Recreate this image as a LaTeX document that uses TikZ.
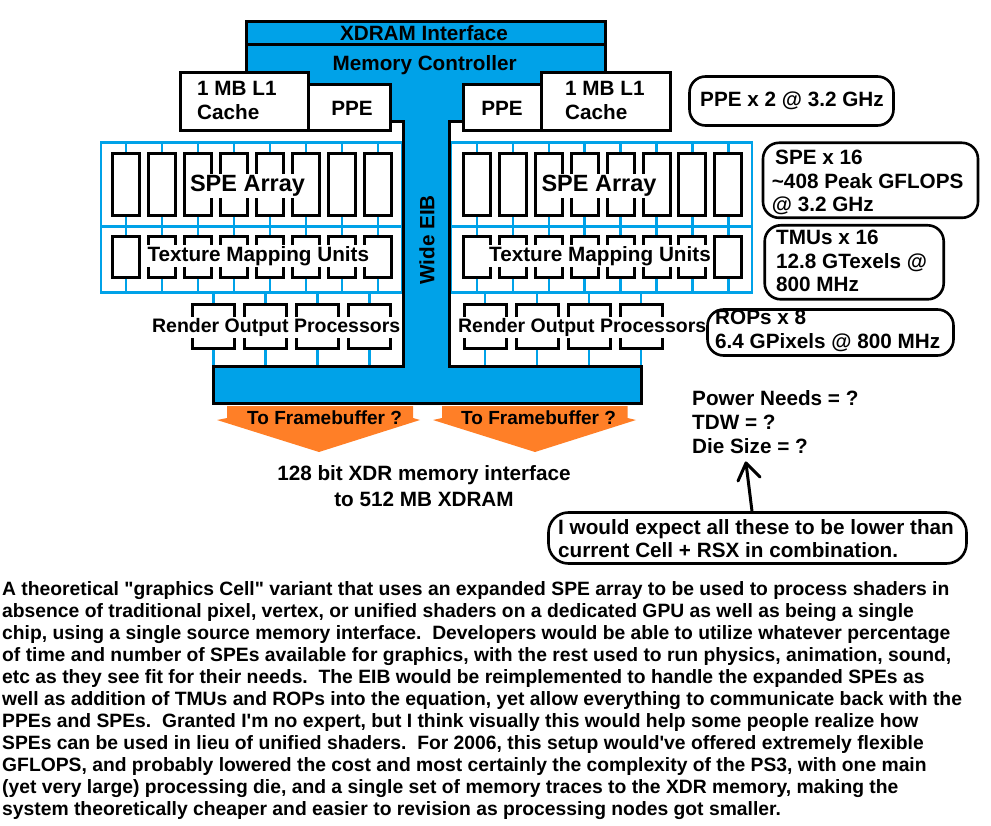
\documentclass[tikz,border=0pt]{standalone}
\usepackage{fontspec}
\newfontfamily\af{Liberation Sans}
\definecolor{pblue}{RGB}{0,162,232}
\definecolor{porange}{RGB}{255,127,39}
\begin{document}
\begin{tikzpicture}[x=1pt,y=-1pt,
  lbl/.style={font=\af\bfseries\fontsize{20.7}{24}\selectfont\frenchspacing, inner sep=0pt},
  big/.style={font=\af\bfseries\fontsize{23.5}{27}\selectfont, inner sep=0pt},
  ropf/.style={font=\af\bfseries\fontsize{19.5}{23}\selectfont, inner sep=0pt},
  fbf/.style={font=\af\bfseries\fontsize{19}{23}\selectfont, inner sep=0pt},
  desc/.style={font=\af\bfseries\fontsize{19.3}{22}\selectfont\frenchspacing, inner sep=0pt, anchor=base west},
  bx/.style={draw=black, line width=3pt, fill=white, inner sep=0pt},
  bl/.style={draw=pblue, line width=2.5pt},
  blk/.style={draw=black, line width=3pt},
  info/.style={draw=black, line width=2.6pt, rounded corners=16pt, inner sep=0pt},
  ko/.style={fill=white, inner sep=1.2pt},
]
\useasboundingbox (0,0) rectangle (991,826);

% ---------- blue grids ----------
\draw[bl] (101,142.5) rectangle (402,292.5);
\draw[bl] (101,226.5) -- (402,226.5);
\draw[bl] (451,142.5) rectangle (752,292.5);
\draw[bl] (451,226.5) -- (752,226.5);
\coordinate (gt) at (0,142.5);
\coordinate (gm) at (0,226.5);
\coordinate (gb) at (0,292.5);
\coordinate (bt) at (0,365);

% ---------- SPE and TMU boxes ----------
\foreach \i in {1,...,8}{
  \pgfmathsetmacro\xl{126+36*(\i-1)}
  \pgfmathsetmacro\xr{477+35.9*(\i-1)}
  \node[bx, minimum width=27pt, minimum height=62pt] (sL\i) at (\xl,184.5) {};
  \node[bx, minimum width=27pt, minimum height=62pt] (sR\i) at (\xr,184.5) {};
  \node[bx, minimum width=27pt, minimum height=41pt] (tL\i) at (\xl,257) {};
  \node[bx, minimum width=27pt, minimum height=41pt] (tR\i) at (\xr,257) {};
  \draw[bl] (sL\i.north) -- (sL\i.north |- gt);
  \draw[bl] (sL\i.south) -- (sL\i.south |- gm);
  \draw[bl] (tL\i.north) -- (tL\i.north |- gm);
  \draw[bl] (tL\i.south) -- (tL\i.south |- gb);
  \draw[bl] (sR\i.north) -- (sR\i.north |- gt);
  \draw[bl] (sR\i.south) -- (sR\i.south |- gm);
  \draw[bl] (tR\i.north) -- (tR\i.north |- gm);
  \draw[bl] (tR\i.south) -- (tR\i.south |- gb);
}

% ---------- ROP boxes ----------
\foreach \i in {1,...,4}{
  \pgfmathsetmacro\xl{213.5+52*(\i-1)}
  \pgfmathsetmacro\xr{485+52*(\i-1)}
  \node[bx, minimum width=42pt, minimum height=44pt] (rL\i) at (\xl,326.5) {};
  \node[bx, minimum width=42pt, minimum height=44pt] (rR\i) at (\xr,326.5) {};
  \draw[bl] (rL\i.north) -- (rL\i.north |- gb);
  \draw[bl] (rL\i.south) -- (rL\i.south |- bt);
  \draw[bl] (rR\i.north) -- (rR\i.north |- gb);
  \draw[bl] (rR\i.south) -- (rR\i.south |- bt);
}

% ---------- knockout labels ----------
\node[big, ko, anchor=base] (saL) at (247.5,191.5) {SPE Array};
\node[big, ko, anchor=base] (saR) at (599,191.5) {SPE Array};
\node[lbl, ko, anchor=base] (tmL) at (258.3,261.7) {Texture Mapping Units};
\node[lbl, ko, anchor=base] (tmR) at (600,261.7) {Texture Mapping Units};
\node[ropf, ko, anchor=base west] (roL) at (150.7,332.7) {Render Output Processors};
\node[ropf, ko, anchor=base west] (roR) at (456.7,332.7) {Render Output Processors};

% ---------- memory controller, EIB stem, bottom bar ----------
\fill[pblue] (245,44.5) rectangle (607,84.5);
\fill[pblue] (390.5,83) rectangle (463.5,122);
\fill[pblue] (403.5,122) rectangle (449.5,366.5);
\fill[pblue] (213.5,366.5) rectangle (641.5,403.5);
\draw[blk] (246.5,44.5) -- (246.5,74);
\draw[blk] (605.5,44.5) -- (605.5,74);
\draw[blk] (390.5,122) -- (403.5,122) -- (403.5,366.5) -- (213.5,366.5) -- (213.5,403.5)
  -- (641.5,403.5) -- (641.5,366.5) -- (449.5,366.5) -- (449.5,122) -- (463.5,122);
\node[bx, fill=pblue, minimum width=359pt, minimum height=23pt] (xdr) at (426,33) {};
\node[lbl, anchor=base] (xdrt) at (424,40.6) {XDRAM Interface};
\node[lbl, anchor=base] (mc) at (424.7,70.3) {Memory Controller};
\node[lbl, rotate=90] (eib) at (427,240) {Wide EIB};

% ---------- caches and PPEs ----------
\node[bx, minimum width=128pt, minimum height=58pt] (cL) at (244.5,101.5) {};
\node[bx, minimum width=82pt, minimum height=46pt] (pL) at (349.5,107.5) {};
\node[bx, minimum width=78pt, minimum height=46pt] (pR) at (502.5,107.5) {};
\node[bx, minimum width=129pt, minimum height=58pt] (cR) at (606,101.5) {};
\node[lbl, anchor=base west] (cLa) at (197,96) {1 MB L1};
\node[lbl, anchor=base west] (cLb) at (197,119.3) {Cache};
\node[lbl, anchor=base west] (cRa) at (565,96) {1 MB L1};
\node[lbl, anchor=base west] (cRb) at (565,119.3) {Cache};
\node[lbl, anchor=base] (pLt) at (352,116) {PPE};
\node[lbl, anchor=base] (pRt) at (502,116) {PPE};

% ---------- orange arrows ----------
\fill[porange] (227,406) -- (413,406) -- (413,418) -- (420,420) -- (319,452) -- (217,420) -- (227,418) -- cycle;
\fill[porange] (442,406) -- (627.5,406) -- (627.5,418) -- (636,420) -- (535,452) -- (433,420) -- (442,418) -- cycle;
\node[fbf, anchor=base west] (fbL) at (247,424) {To Framebuffer ?};
\node[fbf, anchor=base west] (fbR) at (461,424) {To Framebuffer ?};
\node[lbl, anchor=base] (xm1) at (424,480.5) {128 bit XDR memory interface};
\node[lbl, anchor=base] (xm2) at (424,506) {to 512 MB XDRAM};

% ---------- info boxes ----------
\node[info, minimum width=204pt, minimum height=49pt] (iPPE) at (791.5,101) {};
\node[lbl, anchor=base west] (iPPEt) at (700,106.7) {PPE x 2 @ 3.2 GHz};
\node[info, minimum width=215pt, minimum height=75pt] (iSPE) at (870.5,180.3) {};
\node[lbl, anchor=base west] (iSPE1) at (775,164.3) {SPE x 16};
\node[lbl, anchor=base west] (iSPE2) at (771.7,188.3) {\textasciitilde 408 Peak GFLOPS};
\node[lbl, anchor=base west] (iSPE3) at (771.7,211.7) {@ 3.2 GHz};
\node[info, minimum width=179pt, minimum height=74pt] (iTMU) at (854.2,262.3) {};
\node[lbl, anchor=base west] (iTMU1) at (776,245) {TMUs x 16};
\node[lbl, anchor=base west] (iTMU2) at (776,268.3) {12.8 GTexels @};
\node[lbl, anchor=base west] (iTMU3) at (776,291.7) {800 MHz};
\node[info, minimum width=246pt, minimum height=46pt] (iROP) at (830.5,332.5) {};
\node[lbl, anchor=base west] (iROP1) at (715,325) {ROPs x 8};
\node[lbl, anchor=base west] (iROP2) at (715,348.3) {6.4 GPixels @ 800 MHz};

\node[lbl, anchor=base west] (pw1) at (692,405.7) {Power Needs = ?};
\node[lbl, anchor=base west] (pw2) at (692,429.3) {TDW = ?};
\node[lbl, anchor=base west] (pw3) at (692,453.3) {Die Size = ?};

\node[info, rounded corners=20pt, minimum width=418pt, minimum height=51pt] (bub) at (757.5,538) {};
\node[lbl, anchor=base west] (bub1) at (558,534) {I would expect all these to be lower than};
\node[lbl, anchor=base west] (bub2) at (558,557.3) {current Cell + RSX in combination.};

\coordinate (tip) at (746,463);
\draw[blk, line cap=round] ([xshift=-5.5pt]bub.north) -- (tip);
\draw[blk, line cap=round, line join=round] (tip) ++(-8,18) -- (tip) -- ++(14,14);

% ---------- description ----------
\foreach \t [count=\i] in {
 {A theoretical "graphics Cell" variant that uses an expanded SPE array to be used to process shaders in},
 {absence of traditional pixel, vertex, or unified shaders on a dedicated GPU as well as being a single},
 {chip, using a single source memory interface.\ \ Developers would be able to utilize whatever percentage},
 {of time and number of SPEs available for graphics, with the rest used to run physics, animation, sound,},
 {etc as they see fit for their needs.\ \ The EIB would be reimplemented to handle the expanded SPEs as},
 {well as addition of TMUs and ROPs into the equation, yet allow everything to communicate back with the},
 {PPEs and SPEs.\ \ Granted I'm no expert, but I think visually this would help some people realize how},
 {SPEs can be used in lieu of unified shaders.\ \ For 2006, this setup would've offered extremely flexible},
 {GFLOPS, and probably lowered the cost and most certainly the complexity of the PS3, with one main},
 {(yet very large) processing die, and a single set of memory traces to the XDR memory, making the},
 {system theoretically cheaper and easier to revision as processing nodes got smaller.}}{
  \node[desc] (d\i) at (2,{595+22*(\i-1)}) {\t};
}
\end{tikzpicture}
\end{document}
